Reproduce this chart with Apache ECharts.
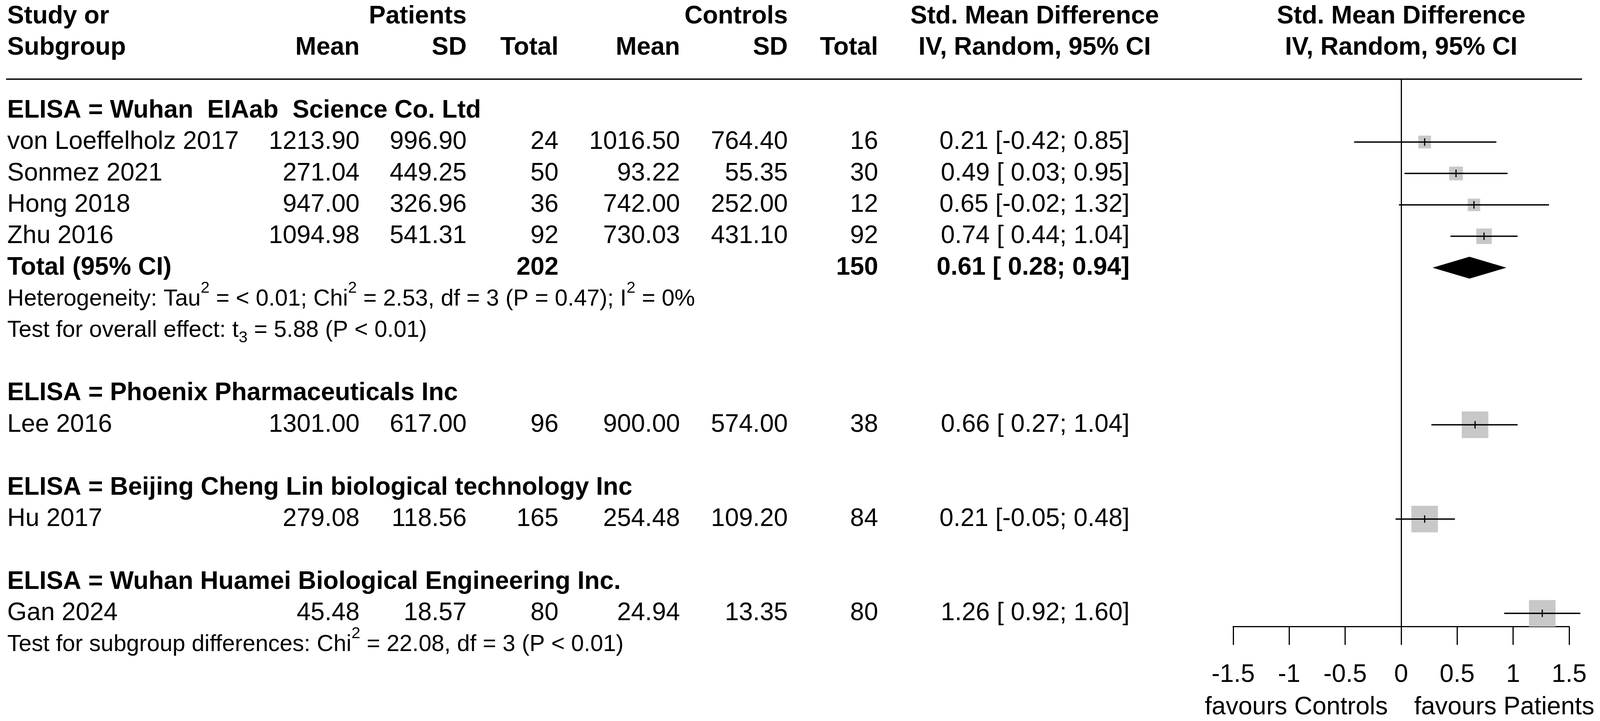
<!DOCTYPE html>
<html lang="en">
<head>
  <meta charset="UTF-8">
  <title>Forest plot</title>
  <script src="https://cdn.jsdelivr.net/npm/echarts@6.0.0/dist/echarts.min.js"></script>
  <style>
    html, body { margin: 0; padding: 0; background: #fff; overflow: hidden; }
    #main { width: 100vw; height: 1845px; }
  </style>
</head>
<body>
  <div id="main"></div>

  <script>
    // study level data
    var studies = ['von Loeffelholz 2017', 'Sonmez 2021', 'Hong 2018', 'Zhu 2016', 'Lee 2016', 'Hu 2017', 'Gan 2024']
    var groupOf = [0, 0, 0, 0, 1, 2, 3]
    var groups = [
      'ELISA = Wuhan  EIAab  Science Co. Ltd',
      'ELISA = Phoenix Pharmaceuticals Inc',
      'ELISA = Beijing Cheng Lin biological technology Inc',
      'ELISA = Wuhan Huamei Biological Engineering Inc.'
    ]
    var patMean = [1213.90, 271.04, 947.00, 1094.98, 1301.00, 279.08, 45.48]
    var patSD = [996.90, 449.25, 326.96, 541.31, 617.00, 118.56, 18.57]
    var patN = [24, 50, 36, 92, 96, 165, 80]
    var ctlMean = [1016.50, 93.22, 742.00, 730.03, 900.00, 254.48, 24.94]
    var ctlSD = [764.40, 55.35, 252.00, 431.10, 574.00, 109.20, 13.35]
    var ctlN = [16, 30, 12, 92, 38, 84, 80]
    var smd = [0.21, 0.49, 0.65, 0.74, 0.66, 0.21, 1.26]
    var ciLow = [-0.42, 0.03, -0.02, 0.44, 0.27, -0.05, 0.92]
    var ciHigh = [0.85, 0.95, 1.32, 1.04, 1.04, 0.48, 1.60]
    var boxWeight = [23, 27, 22, 34, 100, 100, 100]   // box area, % of a single-study subgroup

    // pooled result (only the first subgroup has several studies)
    var pooled = { group: 0, patN: 202, ctlN: 150, smd: 0.61, low: 0.28, high: 0.94 }
    var hetText = 'Heterogeneity: Tau{sup|2} = < 0.01; Chi{sup|2} = 2.53, df = 3 (P = 0.47); I{sup|2} = 0%'
    var overallText = 'Test for overall effect: t{sub|3} = 5.88 (P < 0.01)'
    var subgroupText = 'Test for subgroup differences: Chi{sup|2} = 22.08, df = 3 (P < 0.01)'
    var favours = ['favours Controls', 'favours Patients']

    var chart = echarts.init(document.getElementById('main'))
    // layout is measured on a 4200 px wide page, scale it to the real width
    var sx = chart.getWidth() / 4200

    var FONT = '"Liberation Sans", Arial, sans-serif'
    var FS = 66 * sx         // table font
    var FS_NOTE = 60.5 * sx  // heterogeneity lines are one point smaller
    // right edges of the table columns (left edge for the name column)
    var COL = { name: 19, pMean: 944, pSD: 1225, pN: 1466, cMean: 1785, cSD: 2068, cN: 2305, ci: 2965, ciHead: 2716 }
    Object.keys(COL).forEach(function (key) { COL[key] *= sx })

    function f2(v) { return v.toFixed(2) }
    function ciStr(e, l, h) {
      return f2(e) + ' [' + (l < 0 ? '' : ' ') + f2(l) + '; ' + f2(h) + ']'
    }

    // lay the rows out, one row = one unit on the y axis
    var rows = []
    var studyRow = []
    var totalRow = 0
    rows.push({ k: -3, type: 'head1' })
    rows.push({ k: -2, type: 'head2' })
    rows.push({ k: -1, type: 'rule' })
    var k = 0
    groups.forEach(function (g, gi) {
      rows.push({ k: k++, type: 'group', text: g })
      studies.forEach(function (s, i) {
        if (groupOf[i] !== gi) return
        studyRow[i] = k
        rows.push({ k: k++, type: 'study', i: i })
      })
      if (gi === pooled.group) {
        totalRow = k
        rows.push({ k: k++, type: 'total' })
        rows.push({ k: k++, type: 'note', text: hetText })
        rows.push({ k: k++, type: 'note', text: overallText })
      }
      if (gi < groups.length - 1) k++
    })
    rows.push({ k: k, type: 'note', text: subgroupText })
    rows.push({ k: k + 2, type: 'favours' })

    function txt(text, x, y, align, bold, size) {
      return {
        type: 'text',
        style: {
          text: text, x: x, y: y,
          align: align, textAlign: align,
          verticalAlign: 'middle', textVerticalAlign: 'middle',
          fontSize: size || FS, fontWeight: bold ? 'bold' : 'normal',
          fontFamily: FONT, fill: '#000'
        }
      }
    }
    function richTxt(text, x, y) {
      var el = txt(text, x, y, 'left', false, FS_NOTE)
      el.style.lineHeight = 96
      el.style.rich = {
        sup: { fontSize: 42 * sx, fontFamily: FONT, height: 40, verticalAlign: 'top', fill: '#000' },
        sub: { fontSize: 42 * sx, fontFamily: FONT, height: 58, verticalAlign: 'bottom', fill: '#000' }
      }
      return el
    }

    function renderTable(params, api) {
      var r = rows[params.dataIndex]
      var p = api.coord([0, r.k])
      var y = p[1], x0 = p[0]
      var c = []
      if (r.type === 'head1') {
        c.push(txt('Study or', COL.name, y, 'left', true))
        c.push(txt('Patients', COL.pSD, y, 'right', true))
        c.push(txt('Controls', COL.cSD, y, 'right', true))
        c.push(txt('Std. Mean Difference', COL.ciHead, y, 'center', true))
        c.push(txt('Std. Mean Difference', x0, y, 'center', true))
      } else if (r.type === 'head2') {
        c.push(txt('Subgroup', COL.name, y, 'left', true))
        c.push(txt('Mean', COL.pMean, y, 'right', true))
        c.push(txt('SD', COL.pSD, y, 'right', true))
        c.push(txt('Total', COL.pN, y, 'right', true))
        c.push(txt('Mean', COL.cMean, y, 'right', true))
        c.push(txt('SD', COL.cSD, y, 'right', true))
        c.push(txt('Total', COL.cN, y, 'right', true))
        c.push(txt('IV, Random, 95% CI', COL.ciHead, y, 'center', true))
        c.push(txt('IV, Random, 95% CI', x0, y, 'center', true))
      } else if (r.type === 'rule') {
        c.push({ type: 'line', shape: { x1: 16 * sx, y1: y, x2: 4153 * sx, y2: y }, style: { stroke: '#000', lineWidth: 3.5 } })
      } else if (r.type === 'group') {
        c.push(txt(r.text, COL.name, y, 'left', true))
      } else if (r.type === 'study') {
        var i = r.i
        c.push(txt(studies[i], COL.name, y, 'left'))
        c.push(txt(f2(patMean[i]), COL.pMean, y, 'right'))
        c.push(txt(f2(patSD[i]), COL.pSD, y, 'right'))
        c.push(txt(String(patN[i]), COL.pN, y, 'right'))
        c.push(txt(f2(ctlMean[i]), COL.cMean, y, 'right'))
        c.push(txt(f2(ctlSD[i]), COL.cSD, y, 'right'))
        c.push(txt(String(ctlN[i]), COL.cN, y, 'right'))
        c.push(txt(ciStr(smd[i], ciLow[i], ciHigh[i]), COL.ci, y, 'right'))
      } else if (r.type === 'total') {
        c.push(txt('Total (95% CI)', COL.name, y, 'left', true))
        c.push(txt(String(pooled.patN), COL.pN, y, 'right', true))
        c.push(txt(String(pooled.ctlN), COL.cN, y, 'right', true))
        c.push(txt(ciStr(pooled.smd, pooled.low, pooled.high), COL.ci, y, 'right', true))
      } else if (r.type === 'note') {
        c.push(richTxt(r.text, COL.name, y))
      } else if (r.type === 'favours') {
        c.push(txt(favours[0], api.coord([-0.119, r.k])[0], y, 'right'))
        c.push(txt(favours[1], api.coord([0.116, r.k])[0], y, 'left'))
      }
      return { type: 'group', children: c }
    }

    function renderStudy(params, api) {
      var row = api.value(1)
      var mid = api.coord([api.value(0), row])
      var lo = api.coord([api.value(2), row])
      var hi = api.coord([api.value(3), row])
      var side = 68 * Math.sqrt(api.value(4) / 100)
      return {
        type: 'group',
        children: [
          { type: 'rect', shape: { x: mid[0] - side / 2, y: mid[1] - side / 2, width: side, height: side }, style: { fill: '#c8c8c8' } },
          { type: 'line', shape: { x1: lo[0], y1: lo[1], x2: hi[0], y2: hi[1] }, style: { stroke: '#000', lineWidth: 3.5 } },
          { type: 'line', shape: { x1: mid[0], y1: mid[1] - 9.5, x2: mid[0], y2: mid[1] + 9.5 }, style: { stroke: '#000', lineWidth: 3 } }
        ]
      }
    }

    function renderDiamond(params, api) {
      var row = api.value(1)
      var mid = api.coord([api.value(0), row])
      var lo = api.coord([api.value(2), row])
      var hi = api.coord([api.value(3), row])
      var h = 28
      return {
        type: 'polygon',
        shape: { points: [[lo[0], lo[1]], [mid[0], mid[1] - h], [hi[0], hi[1]], [mid[0], mid[1] + h]] },
        style: { fill: '#000' }
      }
    }

    var option = {
      animation: false,
      backgroundColor: '#fff',
      grid: { left: 3237 * sx, right: 81 * sx, top: 202.6, bottom: 241.8 },
      xAxis: {
        type: 'value', min: -1.5, max: 1.5, interval: 0.5,
        axisLine: { show: true, onZero: false, lineStyle: { color: '#000', width: 3 } },
        axisTick: { show: true, length: 47, lineStyle: { color: '#000', width: 3 } },
        axisLabel: { color: '#000', fontSize: FS, fontFamily: FONT, margin: 92 },
        splitLine: { show: false }
      },
      yAxis: {
        type: 'value', inverse: true, min: -1, max: 16.42,
        axisLine: { show: true, onZero: true, lineStyle: { color: '#000', width: 3 } },
        axisTick: { show: false },
        axisLabel: { show: false },
        splitLine: { show: false }
      },
      series: [
        {
          type: 'custom', clip: false, silent: true,
          renderItem: renderTable,
          data: rows.map(function (r) { return [0, r.k] })
        },
        {
          type: 'custom', clip: false, silent: true,
          renderItem: renderStudy,
          encode: { x: 0, y: 1 },
          data: studies.map(function (s, i) { return [smd[i], studyRow[i], ciLow[i], ciHigh[i], boxWeight[i]] })
        },
        {
          type: 'custom', clip: false, silent: true,
          renderItem: renderDiamond,
          encode: { x: 0, y: 1 },
          data: [[pooled.smd, totalRow, pooled.low, pooled.high]]
        }
      ]
    }
    chart.setOption(option)
  </script>
</body>
</html>
